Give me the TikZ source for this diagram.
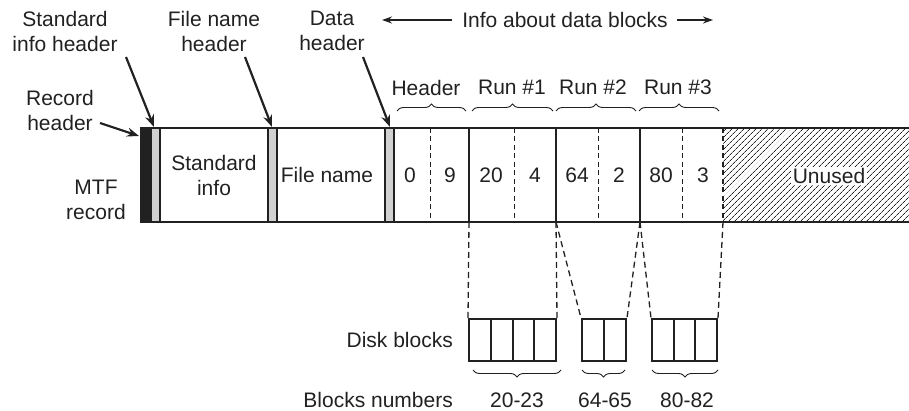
\documentclass[tikz,border=0pt]{standalone}
\usepackage{fontspec}
\setmainfont{Liberation Sans}
\usetikzlibrary{arrows.meta,decorations.pathreplacing,patterns.meta}
\definecolor{hdrgray}{gray}{0.82}
\definecolor{ink}{gray}{0.13}
\begin{document}
\begin{tikzpicture}[x=1pt,y=-1pt, font=\fontsize{21}{25}\selectfont, color=ink,
  lbl/.style={align=center, inner sep=0pt},
  ptr/.style={line width=2.2pt, -{Stealth[length=12pt,width=9pt]}},
  thinptr/.style={line width=1.5pt, -{Stealth[length=10pt,width=7pt]}},
  border/.style={line width=2pt},
  sep/.style={line width=2pt},
  dsep/.style={line width=0.9pt, dash pattern=on 5pt off 3.5pt},
  conn/.style={line width=1.3pt, dash pattern=on 6pt off 4pt},
  brc/.style={decorate, decoration={brace, amplitude=7pt}, line width=0.9pt},
  grp/.style={draw, line width=2pt, minimum height=42pt, inner sep=0pt}]
\path[use as bounding box] (0,0) rectangle (909,411);

% ---- record ----
\fill[pattern={Lines[angle=45,distance=4pt,line width=0.8pt]}, pattern color=ink] (723,128) rectangle (909,222);
\fill[ink] (140,128) rectangle (151,222);
\filldraw[fill=hdrgray, draw=ink, line width=1.2pt] (151,128) rectangle (160,222);
\filldraw[fill=hdrgray, draw=ink, line width=1.2pt] (268,128) rectangle (277,222);
\filldraw[fill=hdrgray, draw=ink, line width=1.2pt] (385,128) rectangle (394,222);
\draw[border] (140,128) -- (909,128);
\draw[border] (140,222) -- (909,222);
\draw[sep] (469,128) -- (469,222);
\draw[sep] (556,128) -- (556,222);
\draw[sep] (640,128) -- (640,222);
\draw[dsep] (430,128) -- (430,222);
\draw[dsep] (514,128) -- (514,222);
\draw[dsep] (598,128) -- (598,222);
\draw[dsep] (682,128) -- (682,222);
\draw[dsep, line width=1.3pt] (723,128) -- (723,222);

\node[lbl] (stdinfo) at (214,175) {Standard\\info};
\node[lbl] (fname) at (327,175) {File name};
\node[lbl] (n0) at (410,175) {0};
\node[lbl] (n9) at (450,175) {9};
\node[lbl] (n20) at (491,175) {20};
\node[lbl] (n4) at (535,175) {4};
\node[lbl] (n64) at (577,175) {64};
\node[lbl] (n2) at (619,175) {2};
\node[lbl] (n80) at (661,175) {80};
\node[lbl] (n3) at (703,175) {3};
\node[fill=white, inner sep=1.5pt] (unused) at (829,176) {Unused};

% ---- left labels ----
\node[lbl] (mtf) at (96,200) {MTF\\record};
\node[lbl] (rechdr) at (60,110) {Record\\header};
\node[lbl] (sihdr) at (65,31) {Standard\\info header};
\node[lbl] (fnhdr) at (214,31) {File name\\header};
\node[lbl] (dhdr) at (332,31) {Data\\header};

\coordinate (rectail) at (100,123);
\coordinate (rectip) at (139,136);
\coordinate (sitail) at (126,57);
\coordinate (sitip) at (154,127);
\coordinate (fntail) at (245,57);
\coordinate (fntip) at (272,127);
\coordinate (dtail) at (363,57);
\coordinate (dtip) at (390,127);
\draw[ptr] (rectail) -- (rectip);
\draw[ptr] (sitail) -- (sitip);
\draw[ptr] (fntail) -- (fntip);
\draw[ptr] (dtail) -- (dtip);

% ---- info about data blocks ----
\node[lbl] (info) at (565,20) {Info about data blocks};
\coordinate (ileft) at (382,20);
\coordinate (iright) at (713,20);
\draw[thinptr] ([xshift=-10pt]info.west) -- (ileft);
\draw[thinptr] ([xshift=9pt]info.east) -- (iright);

% ---- top braces ----
\draw[brc] (397,111) -- (466,111);
\draw[brc] (472,111) -- (553,111);
\draw[brc] (556,111) -- (636,111);
\draw[brc] (639,111) -- (719,111);
\node[lbl] (hdrlbl) at (426,88) {Header};
\node[lbl] (r1) at (512,87) {Run \#1};
\node[lbl] (r2) at (593,87) {Run \#2};
\node[lbl] (r3) at (678,87) {Run \#3};

% ---- disk blocks ----
\node[grp, minimum width=87pt] (g1) at (512.5,340) {};
\node[grp, minimum width=44pt] (g2) at (604,340) {};
\node[grp, minimum width=65pt] (g3) at (684.5,340) {};
\draw[sep] (490.75,319) -- (490.75,361);
\draw[sep] (512.5,319) -- (512.5,361);
\draw[sep] (534.25,319) -- (534.25,361);
\draw[sep] (604,319) -- (604,361);
\draw[sep] (673.7,319) -- (673.7,361);
\draw[sep] (695.3,319) -- (695.3,361);

\coordinate (s1) at (469,222);
\coordinate (s2) at (556,222);
\coordinate (s3) at (640,222);
\coordinate (s4) at (723,222);
\draw[conn] (s1) -- (g1.north west);
\draw[conn] (s2) -- (g1.north east);
\draw[conn] (s2) -- (g2.north west);
\draw[conn] (s3) -- (g2.north east);
\draw[conn] (s3) -- (g3.north west);
\draw[conn] (s4) -- (g3.north east);

\node[lbl, anchor=east] (dblbl) at (453,340) {Disk blocks};
\node[lbl, anchor=east] (bnlbl) at (453,400) {Blocks numbers};

\draw[brc] (561,370) -- (473,370);
\draw[brc] (625,370) -- (582,370);
\draw[brc] (718,370) -- (652,370);
\node[lbl] (b1) at (517,400) {20-23};
\node[lbl] (b2) at (605,400) {64-65};
\node[lbl] (b3) at (687,400) {80-82};
\end{tikzpicture}
\end{document}
